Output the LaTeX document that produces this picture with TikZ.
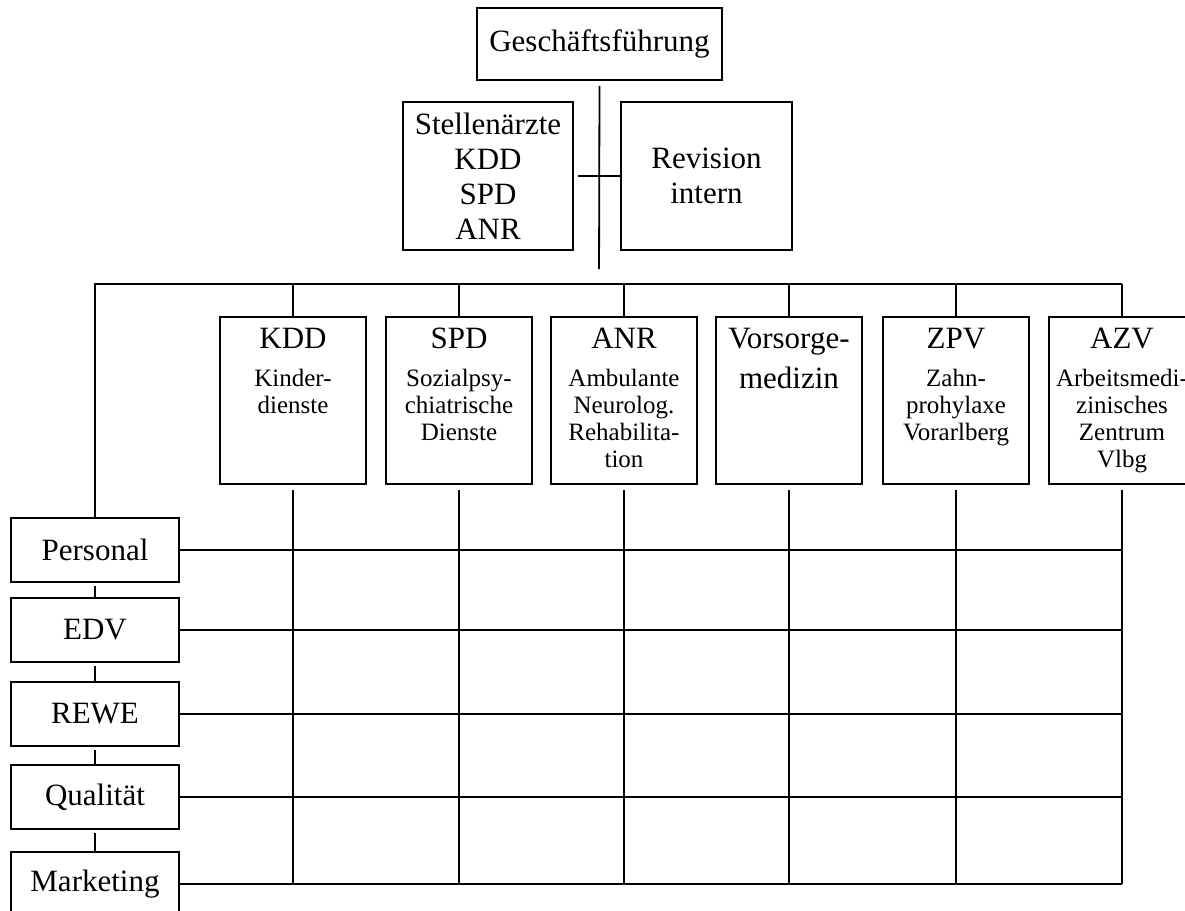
\documentclass[tikz,border=0pt]{standalone}
\usepackage{fontspec}
\setmainfont{Liberation Serif}
\usetikzlibrary{positioning}
\newcommand{\largetxt}{\fontsize{31}{35}\selectfont}
\newcommand{\smalltxt}{\fontsize{25}{27}\selectfont}
\newcommand{\depttext}[2]{\parbox[t][145pt][t]{146pt}{\centering\largetxt #1\\[11pt]\smalltxt #2}}

\begin{document}
\begin{tikzpicture}[x=1pt, y=-1pt, line width=1.8pt,
		box/.style={draw, inner sep=0pt, align=center, font=\largetxt},
		deptbox/.style={draw, anchor=north, inner xsep=0pt, inner ysep=11pt},
		sidebox/.style={box, minimum width=168pt, minimum height=64pt}]
			\clip (0,0) rectangle (1185,910);
			
			\node[box, minimum width=245pt, minimum height=72pt] (gf) at (599.5,44) {Geschäftsführung};
			\node[box, minimum width=170pt, minimum height=148pt] (stell) at (488,176) {Stellenärzte\\KDD\\SPD\\ANR};
			\node[box, minimum width=171pt, minimum height=148pt] (rev) at (706.5,176) {Revision\\intern};
			\coordinate (bus) at (599,284);
			\draw[shorten <=5pt, shorten >=15pt] (gf.south) -- (bus);
			\draw[shorten <=4pt] (stell.east) -- (rev.west);
			
			\node[deptbox] (kdd) at (293,316) {\depttext{KDD}{Kinder-\\dienste}};
			\node[deptbox] (spd) at (459,316) {\depttext{SPD}{Sozialpsy-\\chiatrische\\Dienste}};
			\node[deptbox] (anr) at (624,316) {\depttext{ANR}{Ambulante\\Neurolog.\\Rehabilita-\\tion}};
			\node[deptbox] (vor) at (789,316) {\parbox[t][145pt][t]{146pt}{\centering\largetxt Vorsorge-\\[5pt]medizin}};
			\node[deptbox] (zpv) at (956,316) {\depttext{ZPV}{Zahn-\\prohylaxe\\Vorarlberg}};
			\node[deptbox] (azv) at (1122,316) {\depttext{AZV}{Arbeitsmedi-\\zinisches\\Zentrum\\Vlbg}};
			
			\node[sidebox] (pers) at (95,550) {Personal};
			\node[sidebox] (edv) at (95,630) {EDV};
			\node[sidebox] (rewe) at (95,714) {REWE};
			\node[sidebox] (qual) at (95,797) {Qualität};
			\node[sidebox] (mkt) at (95,884) {Marketing};
			
			\draw (pers.north) |- (bus) -- (bus -| azv.north);
			\foreach \n in {kdd,spd,anr,vor,zpv,azv} {
				\draw (\n.north) -- (\n.north |- bus);
				\draw[shorten <=5pt] (\n.south) -- (\n.south |- mkt.east);
			}
			\foreach \n in {pers,edv,rewe,qual,mkt} {
				\draw (\n.east) -- (\n.east -| azv.south);
			}
			\draw[shorten <=3pt] (pers.south) -- (edv.north);
			\draw[shorten <=3pt] (edv.south) -- (rewe.north);
			\draw[shorten <=3pt] (rewe.south) -- (qual.north);
			\draw[shorten <=3pt] (qual.south) -- (mkt.north);
		\end{tikzpicture}
\end{document}
